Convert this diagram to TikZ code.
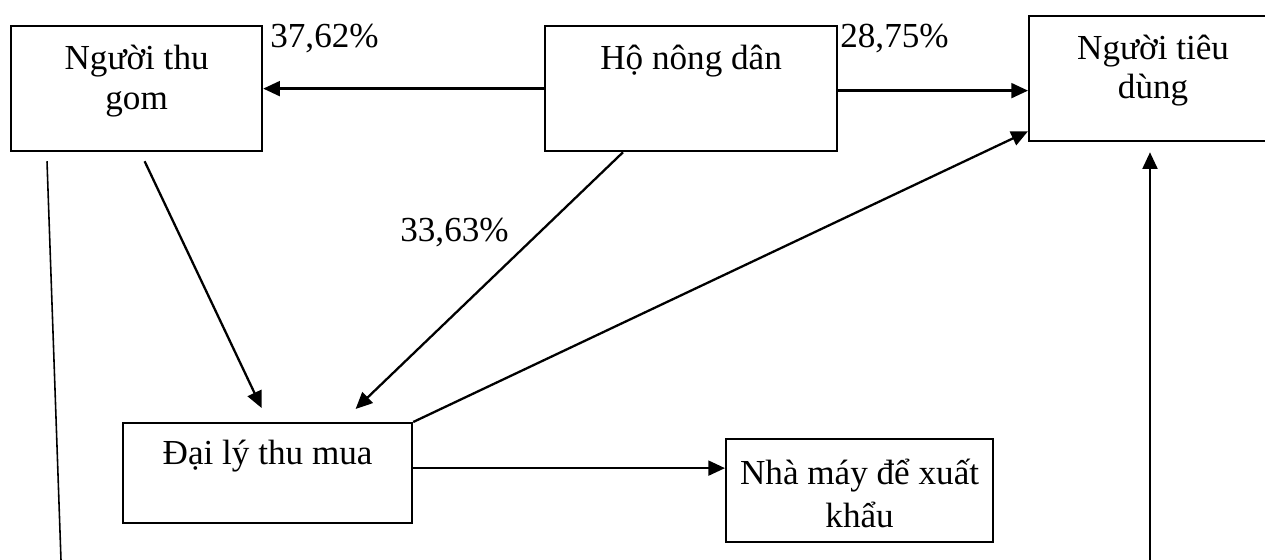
\documentclass[tikz,border=0pt]{standalone}
\usepackage{fontspec}
\setmainfont{Liberation Serif}
\usetikzlibrary{calc}
\usetikzlibrary{arrows.meta}

\tikzset{
  box/.style={draw, line width=1.3pt, inner sep=0pt, anchor=north west},
  flow/.style={-{Triangle[length=9.5pt,width=8.5pt]}, line width=1.3pt},
  pct/.style={anchor=base west, inner sep=0pt},
}
\newcommand{\boxtext}[4]{\parbox[c][#2][t]{#1}{\centering\rule{0pt}{#3}#4}}

\begin{document}
\begin{tikzpicture}[x=0.02cm, y=-0.02cm, font=\fontsize{20}{22.5}\selectfont]
            \useasboundingbox (0,0) rectangle (1265,560);

            % Boxes
            \node[box] (gom) at (10,25) {\boxtext{5.02cm}{2.5cm}{0.87cm}{Người thu\\gom}};
            \node[box] (ho) at (544,25) {\boxtext{5.84cm}{2.5cm}{0.87cm}{Hộ nông dân}};
            \node[box] (tieudung) at (1028,15) {\boxtext{4.96cm}{2.5cm}{0.86cm}{Người tiêu\\dùng}};
            \node[box] (daily) at (122,422) {\boxtext{5.78cm}{2.0cm}{0.83cm}{Đại lý thu mua}};
            \node[box] (nhamay) at (725,438) {\fontsize{20}{24.4}\selectfont\boxtext{5.34cm}{2.06cm}{0.91cm}{Nhà máy để xuất\\khẩu}};

            % Shares
            \node[pct] (p1) at (270,48) {37,62\%};
            \node[pct] (p2) at (840,48) {28,75\%};
            \node[pct] (p3) at (400,242) {33,63\%};

            % Loose ends at the bottom
            \coordinate (gfoot) at (61,560);
            \coordinate (cfoot) at (1150,560);

            % Flows
            \draw[flow] (ho.west) -- (ho.west -| gom.east);
            \draw[flow] ([shift={(0,2)}]ho.east) -- ([shift={(0,2)}]ho.east -| tieudung.west);
            \draw[flow] ([shift={(79,0)}]ho.south west) -- ([shift={(88,-13)}]daily.north);
            \draw[flow] ([shift={(8,9)}]gom.south) -- ([shift={(-6,-14)}]daily.north);
            \draw[flow] (daily.north east) -- ([shift={(0,-11)}]tieudung.south west);
            \draw[flow] ([shift={(0,-5)}]daily.east) -- ([shift={(0,-5)}]daily.east -| nhamay.west);
            \draw[flow] (cfoot) -- ($(cfoot |- tieudung.south)+(0,10)$);
            \draw[line width=0.9pt] ([shift={(37,9)}]gom.south west) -- (gfoot);

        \end{tikzpicture}
\end{document}
